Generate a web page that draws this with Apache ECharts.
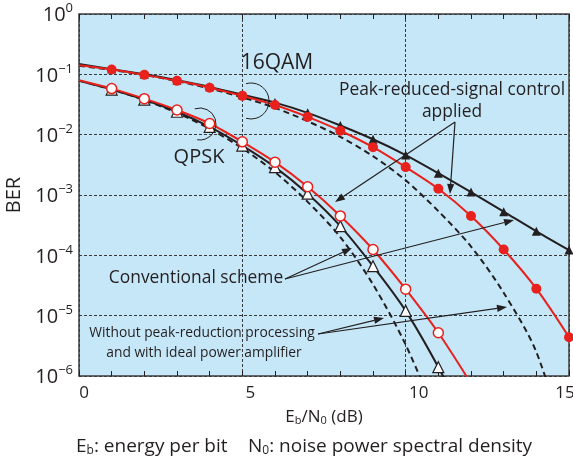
<!DOCTYPE html>
<html><head><meta charset="utf-8">
<script src="https://cdn.jsdelivr.net/npm/echarts@6/dist/echarts.min.js"></script>
<style>html,body{margin:0;padding:0;background:#fff}#c{width:573px;height:460px}</style>
</head><body><div id="c"></div>
<script>
// E_b/N_0 (dB)
const ebn0 = [0,1,2,3,4,5,6,7,8,9,10,11,12,13,14,15];
// QPSK
const qpskIdeal        = [0.0786,0.0563,0.0375,0.0229,0.0125,0.00595,0.00239,7.7e-4,2.0e-4,3.3e-5,3.3e-6,1.8e-7];
const qpskConventional = [0.078,0.056,0.038,0.024,0.0135,0.0066,0.0029,1.05e-3,3.05e-4,6.6e-5,1.2e-5,1.4e-6,1.2e-7];
const qpskPeakReduced  = [0.080,0.058,0.0395,0.0256,0.0153,0.0076,0.0035,1.37e-3,4.5e-4,1.25e-4,2.75e-5,5.2e-6,7.5e-7];
// 16QAM
const qam16Ideal        = [0.139,0.118,0.0977,0.0773,0.058,0.0416,0.0278,0.0167,0.0092,0.0044,0.00175,5.4e-4,1.4e-4,2.4e-5,2.5e-6,5e-8];
const qam16Conventional = [0.148,0.122,0.100,0.080,0.062,0.046,0.034,0.023,0.0142,0.0084,0.0046,0.0023,0.00112,5.3e-4,2.5e-4,1.22e-4];
const qam16PeakReduced  = [0.141,0.120,0.098,0.078,0.060,0.044,0.031,0.0197,0.0116,0.0062,0.0029,0.00127,4.5e-4,1.25e-4,2.8e-5,4.4e-6];
// axis ticks
const xTicks = [0,5,10,15];
const yMin = 1e-6, yMax = 1;

const INK = '#231f20', RED = '#e8211d';
const FONT = '"Open Sans", "Noto Sans", sans-serif';

function pts(arr, withSymbols) {
  return arr.map((y, i) => {
    const item = { value: [ebn0[i], y] };
    if (!withSymbols || i === 0 || y < yMin) item.symbol = 'none';
    return item;
  });
}

const chart = echarts.init(document.getElementById('c'), null, { renderer: 'canvas' });

const xAxisCommon = {
  type: 'value', min: 0, max: 15, interval: 5,
  axisLine: { show: false },
  axisTick: { show: true, inside: true, length: 5, lineStyle: { color: INK, width: 1 } },
  minorTick: { show: true, splitNumber: 5, length: 5, lineStyle: { color: INK, width: 1 } },
  splitLine: { show: false }
};
const xl = { fontSize: 17, fontFamily: FONT, color: INK };

const option = {
  animation: false,
  grid: { left: 79, right: 4, top: 14, bottom: 84, containLabel: false, outerBoundsMode: 'none',
          show: true, backgroundColor: '#c6e7f7', borderColor: '#3c3c3c', borderWidth: 1.5, z: 0 },
  xAxis: [
    Object.assign({}, xAxisCommon, {
      position: 'bottom',
      splitLine: { show: true, lineStyle: { color: '#3a3a3a', type: [3, 2], width: 1 } },
      axisLabel: {
        show: true, margin: 9, color: INK, fontFamily: FONT, fontSize: 17, align: 'center',
        formatter: v => xTicks.indexOf(v) < 0 ? '' : '{t' + v + '|' + v + '}',
        rich: {
          t0: Object.assign({ padding: [0, 0, 0, 10] }, xl),
          t5: Object.assign({ padding: [0, 0, 0, 16] }, xl),
          t10: Object.assign({ padding: [0, 0, 0, 26] }, xl),
          t15: Object.assign({ padding: [0, 8, 0, 0] }, xl)
        }
      },
      name: 'E{s|b}/N{s|0} (dB)', nameLocation: 'middle', nameGap: 33,
      nameTextStyle: { fontSize: 17, fontFamily: FONT, color: INK,
        rich: { s: { fontSize: 11, fontFamily: FONT, color: INK, verticalAlign: 'bottom', lineHeight: 11, padding: [6, 0, 0, 0] } } }
    }),
    Object.assign({}, xAxisCommon, { position: 'top', axisLabel: { show: false } })
  ],
  yAxis: {
    type: 'log', logBase: 10, min: yMin, max: yMax,
    axisLine: { show: false }, axisTick: { show: false },
    splitLine: { show: true, lineStyle: { color: '#3a3a3a', type: [3, 2], width: 1 } },
    axisLabel: {
      margin: 6, color: INK, fontFamily: FONT,
      formatter: v => { const e = Math.round(Math.log10(v)); return '{b|10}{s|' + (e === 0 ? '0' : '\u2212' + (-e)) + '}'; },
      rich: {
        b: { fontSize: 20, fontFamily: FONT, color: INK, lineHeight: 24, padding: [3, 0, 0, 0] },
        s: { fontSize: 13, fontFamily: FONT, color: INK, verticalAlign: 'top', lineHeight: 13 }
      }
    },
    name: 'BER', nameLocation: 'middle', nameRotate: 90, nameGap: 50,
    nameTextStyle: { fontSize: 20, fontFamily: FONT, color: INK }
  },
  series: [
    { name: 'QPSK ideal', type: 'line', data: pts(qpskIdeal, false), smooth: 0.3, showSymbol: false,
      lineStyle: { color: INK, width: 2, type: [6, 4] }, z: 2 },
    { name: '16QAM ideal', type: 'line', data: pts(qam16Ideal, false), smooth: 0.3, showSymbol: false,
      lineStyle: { color: INK, width: 2, type: [6, 4] }, z: 2 },
    { name: 'QPSK conventional', type: 'line', data: pts(qpskConventional, true), smooth: 0.3,
      symbol: 'triangle', symbolSize: 11, itemStyle: { color: '#ffffff', borderColor: INK, borderWidth: 1.2 },
      lineStyle: { color: INK, width: 2 }, z: 3 },
    { name: '16QAM conventional', type: 'line', data: pts(qam16Conventional, true), smooth: 0.3,
      symbol: 'triangle', symbolSize: 9, itemStyle: { color: INK, borderColor: INK, borderWidth: 0 },
      lineStyle: { color: INK, width: 2 }, z: 3 },
    { name: 'QPSK peak-reduced', type: 'line', data: pts(qpskPeakReduced, true), smooth: 0.3,
      symbol: 'circle', symbolSize: 10, itemStyle: { color: '#ffffff', borderColor: RED, borderWidth: 1.5 },
      lineStyle: { color: RED, width: 2 }, z: 4 },
    { name: '16QAM peak-reduced', type: 'line', data: pts(qam16PeakReduced, true), smooth: 0.3,
      symbol: 'circle', symbolSize: 10, itemStyle: { color: RED, borderColor: RED, borderWidth: 0 },
      lineStyle: { color: RED, width: 2 }, z: 4 }
  ]
};
chart.setOption(option);

// ---- annotations ----
function arrow(x1, y1, x2, y2) {
  const ang = Math.atan2(y2 - y1, x2 - x1), L = 10, W = 3.6;
  const bx = x2 - L * Math.cos(ang), by = y2 - L * Math.sin(ang);
  const nx = -Math.sin(ang), ny = Math.cos(ang);
  return [
    { type: 'line', z: 50, shape: { x1: x1, y1: y1, x2: bx, y2: by }, style: { stroke: INK, lineWidth: 1.2 } },
    { type: 'polygon', z: 50, shape: { points: [[x2, y2], [bx + nx * W, by + ny * W], [bx - nx * W, by - ny * W]] }, style: { fill: INK } }
  ];
}
function label(text, x, y, size, align) {
  return { type: 'text', z: 50, x: x, y: y, style: { text: text, fill: INK, font: size + 'px ' + FONT, align: align || 'center', verticalAlign: 'middle' } };
}
const subRich = { s: { fontSize: 12, fontFamily: FONT, fill: INK, verticalAlign: 'bottom', lineHeight: 12, padding: [7, 0, 0, 0] } };
const g = [];
g.push(label('16QAM', 277, 63, 21));
g.push(label('QPSK', 199, 157, 20));
g.push(label('Peak-reduced-signal control', 452, 90, 17.4));
g.push(label('applied', 452, 112, 17.4));
g.push(label('Conventional scheme', 196, 278, 17.4));
g.push(label('Without peak-reduction processing', 202, 333, 13.8));
g.push(label('and with ideal power amplifier', 204, 353, 13.8));
g.push({ type: 'arc', z: 50, shape: { cx: 251, cy: 101, r: 18, startAngle: -1.85, endAngle: 1.85, clockwise: true }, style: { stroke: INK, lineWidth: 1, fill: null } });
g.push({ type: 'arc', z: 50, shape: { cx: 200, cy: 124, r: 16, startAngle: -1.9, endAngle: 1.75, clockwise: true }, style: { stroke: INK, lineWidth: 1, fill: null } });
[].concat(
  arrow(455, 122, 335, 202), arrow(455, 122, 450, 194),
  arrow(285, 279, 352, 248), arrow(285, 279, 514, 220),
  arrow(318, 334, 384, 318), arrow(318, 334, 507, 307)
).forEach(e => g.push(e));
g.push({ type: 'text', z: 50, x: 76, y: 447, style: {
  text: 'E{s|b}: energy per bit', rich: subRich,
  fill: INK, font: '19px ' + FONT, align: 'left', verticalAlign: 'middle' } });
g.push({ type: 'text', z: 50, x: 248, y: 447, style: {
  text: 'N{s|0}: noise power spectral density', rich: subRich,
  fill: INK, font: '19px ' + FONT, align: 'left', verticalAlign: 'middle' } });
chart.setOption({ graphic: { elements: g } });
</script>
</body></html>
